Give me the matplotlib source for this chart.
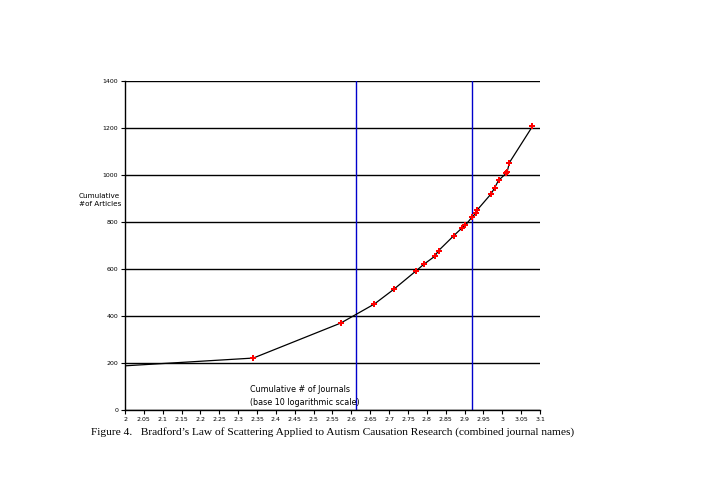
import numpy as np
import matplotlib
matplotlib.use('Agg')
import matplotlib.pyplot as plt

# cumulative journals (log10) vs cumulative articles
log_journals = [2.0, 2.340, 2.572, 2.661, 2.712, 2.770, 2.792, 2.821, 2.831,
                2.871, 2.892, 2.902, 2.921, 2.931, 2.934, 2.970, 2.980,
                2.990, 3.011, 3.013, 3.019, 3.080]
articles = [188, 221, 370, 451, 513, 590, 620, 654, 678,
            741, 773, 786, 823, 838, 852, 919, 946,
            977, 1008, 1014, 1053, 1207]

zone_bounds = [2.612, 2.919]
x_ticks = np.round(np.arange(2.0, 3.1001, 0.05), 2)
y_ticks = list(range(0, 1401, 200))

fig = plt.figure(figsize=(7.04, 4.8), dpi=100)
ax = fig.add_axes([125 / 704, 70 / 480, 415 / 704, 329 / 480])

ax.plot(log_journals, articles, color='black', lw=0.9, zorder=2)
ax.plot(log_journals[1:], articles[1:], ls='none', marker='P', ms=4.5,
        color='red', markeredgewidth=0, zorder=3)

for xb in zone_bounds:
  ax.axvline(xb, color='#0000cc', lw=1.0, zorder=1)

ax.set_xlim(2.0, 3.1)
ax.set_ylim(0, 1400)
ax.set_xticks(x_ticks)
ax.set_xticklabels([f'{t:g}' for t in x_ticks])
ax.set_yticks(y_ticks)
ax.yaxis.grid(True, color='black', lw=1.0)
ax.set_axisbelow(True)
for s in ['top', 'right']:
  ax.spines[s].set_visible(False)
for s in ['left', 'bottom']:
  ax.spines[s].set_linewidth(1.0)
ax.tick_params(axis='both', labelsize=4.5, length=3, width=0.8, pad=2)

ax.text(-0.111, 0.638, 'Cumulative\n#of Articles', transform=ax.transAxes,
        fontsize=5.2, ha='left', va='center', linespacing=1.5)
ax.text(0.30, 0.043, 'Cumulative # of Journals\n(base 10 logarithmic scale)',
        transform=ax.transAxes, fontsize=5.8, ha='left', va='center',
        linespacing=1.6)

fig.text(333 / 704, 1 - 432 / 480,
         'Figure 4.   Bradford\u2019s Law of Scattering Applied to Autism '
         'Causation Research (combined journal names)',
         fontsize=8.2, family='Liberation Serif', ha='center', va='center')

plt.savefig('out.png', dpi=100)
